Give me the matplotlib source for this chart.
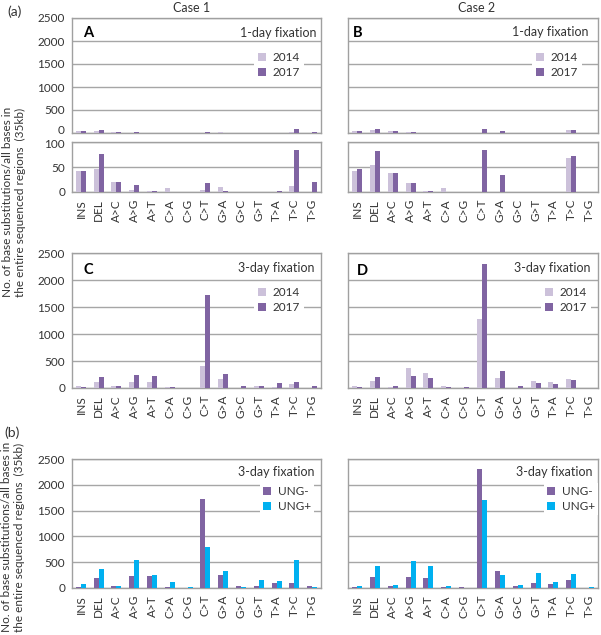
import matplotlib
matplotlib.use("Agg")
import matplotlib.pyplot as plt
from matplotlib.patches import Patch
import numpy as np

plt.rcParams['font.family'] = ['Lato', 'DejaVu Sans']

categories = ["INS", "DEL", "A>C", "A>G", "A>T", "C>A", "C>G", "C>T",
              "G>A", "G>C", "G>T", "T>A", "T>C", "T>G"]

case1_1day_2014 = [42, 46, 21, 4, 3, 8, 0, 5, 11, 0, 0, 0, 12, 0]
case1_1day_2017 = [42, 76, 21, 14, 3, 0, 0, 19, 3, 0, 0, 3, 85, 20]
case2_1day_2014 = [43, 55, 38, 18, 3, 9, 0, 0, 1, 0, 0, 0, 69, 0]
case2_1day_2017 = [46, 83, 38, 18, 3, 0, 0, 84, 34, 0, 0, 0, 73, 0]

case1_3day_2014 = [45, 110, 35, 105, 117, 25, 8, 405, 172, 0, 35, 20, 74, 0]
case1_3day_2017 = [26, 201, 39, 240, 227, 19, 0, 1730, 260, 39, 39, 91, 104, 32]
case2_3day_2014 = [45, 125, 19, 369, 281, 31, 0, 1275, 194, 6, 125, 106, 175, 5]
case2_3day_2017 = [19, 205, 32, 218, 192, 26, 19, 2300, 320, 45, 90, 83, 147, 3]

case1_ung_minus = [26, 201, 39, 240, 227, 19, 0, 1730, 260, 39, 39, 91, 104, 32]
case1_ung_plus = [78, 376, 32, 545, 253, 123, 13, 785, 337, 19, 150, 136, 545, 19]
case2_ung_minus = [19, 205, 32, 218, 192, 26, 19, 2300, 320, 45, 90, 83, 147, 3]
case2_ung_plus = [38, 436, 64, 532, 423, 45, 0, 1700, 244, 64, 289, 109, 269, 19]

main_ticks = [0, 500, 1000, 1500, 2000, 2500]
inset_ticks = [0, 50, 100]

C_LIGHT = "#CCC1DA"
C_PURPLE = "#8064A2"
C_CYAN = "#00B0F0"
GRID = "#A6A6A6"
SPINE = "#A0A0A0"
TXT = "#333333"
FS = 8.5

W, H = 601, 635
fig = plt.figure(figsize=(W / 100, H / 100), dpi=100)


def px_axes(x0, y0, x1, y1):
    return fig.add_axes([x0 / W, 1 - y1 / H, (x1 - x0) / W, (y1 - y0) / H])


def ftext(x, y, s, **kw):
    kw.setdefault("color", TXT)
    fig.text(x / W, 1 - y / H, s, **kw)


def draw(ax, a, b, ca, cb, ylim, yticks, ylabels, xlabels, skip=None):
    x = np.arange(len(categories))
    w = 0.28
    ax.bar(x - w / 2, a, width=w, color=ca, zorder=3)
    ax.bar(x + w / 2, b, width=w, color=cb, zorder=3)
    ax.set_xlim(-0.5, len(categories) - 0.5)
    ax.set_ylim(*ylim)
    ax.set_yticks(yticks)
    ax.yaxis.grid(True, color=GRID, lw=1)
    ax.set_axisbelow(True)
    for sp in ax.spines.values():
        sp.set_color(SPINE)
        sp.set_linewidth(1)
    ax.tick_params(length=0, labelsize=FS, colors=TXT, pad=5)
    ax.set_xticks(x)
    if xlabels:
        ax.set_xticklabels(categories, rotation=90)
    else:
        ax.set_xticklabels([])
    if not ylabels:
        ax.set_yticklabels([])
    elif skip is not None:
        ax.set_yticklabels(["" if t == skip else str(t) for t in yticks])


def legend(ax, labels, colors, cx, cy):
    handles = [Patch(facecolor=c, edgecolor='none') for c in colors]
    lg = ax.legend(handles, labels, loc='center',
                   bbox_to_anchor=(cx / W, 1 - cy / H),
                   bbox_transform=fig.transFigure,
                   frameon=True, facecolor='white', edgecolor='none',
                   framealpha=1, fancybox=False, fontsize=FS,
                   handlelength=0.65, handleheight=0.65, handletextpad=0.6,
                   labelspacing=0.3, borderpad=0.3, borderaxespad=0)
    for t in lg.get_texts():
        t.set_color(TXT)
    lg.set_zorder(5)


# (a) 1-day fixation
axA = px_axes(72, 18, 321, 133)
draw(axA, case1_1day_2014, case1_1day_2017, C_LIGHT, C_PURPLE,
     (0, 2500), main_ticks, True, False, skip=0)
legend(axA, ["2014", "2017"], [C_LIGHT, C_PURPLE], 279, 65)
axAi = px_axes(72, 142, 321, 192)
draw(axAi, case1_1day_2014, case1_1day_2017, C_LIGHT, C_PURPLE,
     (0, 100), inset_ticks, True, True, skip=100)
# the two touching labels between main panel and inset, nudged apart
ftext(65, 130, "0", fontsize=FS, ha='right', va='center')
ftext(65, 145, "100", fontsize=FS, ha='right', va='center')

axB = px_axes(348, 18, 598, 133)
draw(axB, case2_1day_2014, case2_1day_2017, C_LIGHT, C_PURPLE,
     (0, 2500), main_ticks, False, False)
legend(axB, ["2014", "2017"], [C_LIGHT, C_PURPLE], 557, 65)
axBi = px_axes(348, 142, 598, 192)
draw(axBi, case2_1day_2014, case2_1day_2017, C_LIGHT, C_PURPLE,
     (0, 100), inset_ticks, False, True)

# 3-day fixation
axC = px_axes(72, 253, 321, 388)
draw(axC, case1_3day_2014, case1_3day_2017, C_LIGHT, C_PURPLE,
     (0, 2500), main_ticks, True, True)
legend(axC, ["2014", "2017"], [C_LIGHT, C_PURPLE], 279, 300)

axD = px_axes(348, 253, 598, 388)
draw(axD, case2_3day_2014, case2_3day_2017, C_LIGHT, C_PURPLE,
     (0, 2500), main_ticks, False, True)
legend(axD, ["2014", "2017"], [C_LIGHT, C_PURPLE], 566, 300)

# (b) UNG
axE = px_axes(72, 459, 321, 588)
draw(axE, case1_ung_minus, case1_ung_plus, C_PURPLE, C_CYAN,
     (0, 2500), main_ticks, True, True)
legend(axE, ["UNG-", "UNG+"], [C_PURPLE, C_CYAN], 287, 499)

axF = px_axes(348, 459, 598, 588)
draw(axF, case2_ung_minus, case2_ung_plus, C_PURPLE, C_CYAN,
     (0, 2500), main_ticks, False, True)
legend(axF, ["UNG-", "UNG+"], [C_PURPLE, C_CYAN], 571, 499)

# texts
ftext(15, 12, "(a)", fontsize=10, ha='center', va='center')
ftext(12, 433, "(b)", fontsize=10, ha='center', va='center')
ftext(192, 8, "Case 1", fontsize=9, ha='center', va='center')
ftext(477, 8, "Case 2", fontsize=9, ha='center', va='center')

for (x, y, s) in [(316, 33, "1-day fixation"), (588, 32, "1-day fixation"),
                  (314, 268, "3-day fixation"), (590, 268, "3-day fixation"),
                  (315, 472, "3-day fixation"), (592, 472, "3-day fixation")]:
    ftext(x, y, s, fontsize=9, ha='right', va='center', zorder=6)

for (x, y, s) in [(83, 33, "A"), (353, 33, "B"), (83, 270, "C"), (357, 271, "D")]:
    ftext(x, y, s, fontsize=10.5, fontweight='bold', ha='left', va='center',
          color='black')

ylab = "No. of base substitutions/all bases in\nthe entire sequenced regions  (35kb)"
ftext(14, 202, ylab, fontsize=8.5, rotation=90, ha='center', va='center',
      multialignment='center', linespacing=1.25)
ftext(13, 537, ylab, fontsize=8.5, rotation=90, ha='center', va='center',
      multialignment='center', linespacing=1.25)

fig.savefig("out.png", dpi=100)
